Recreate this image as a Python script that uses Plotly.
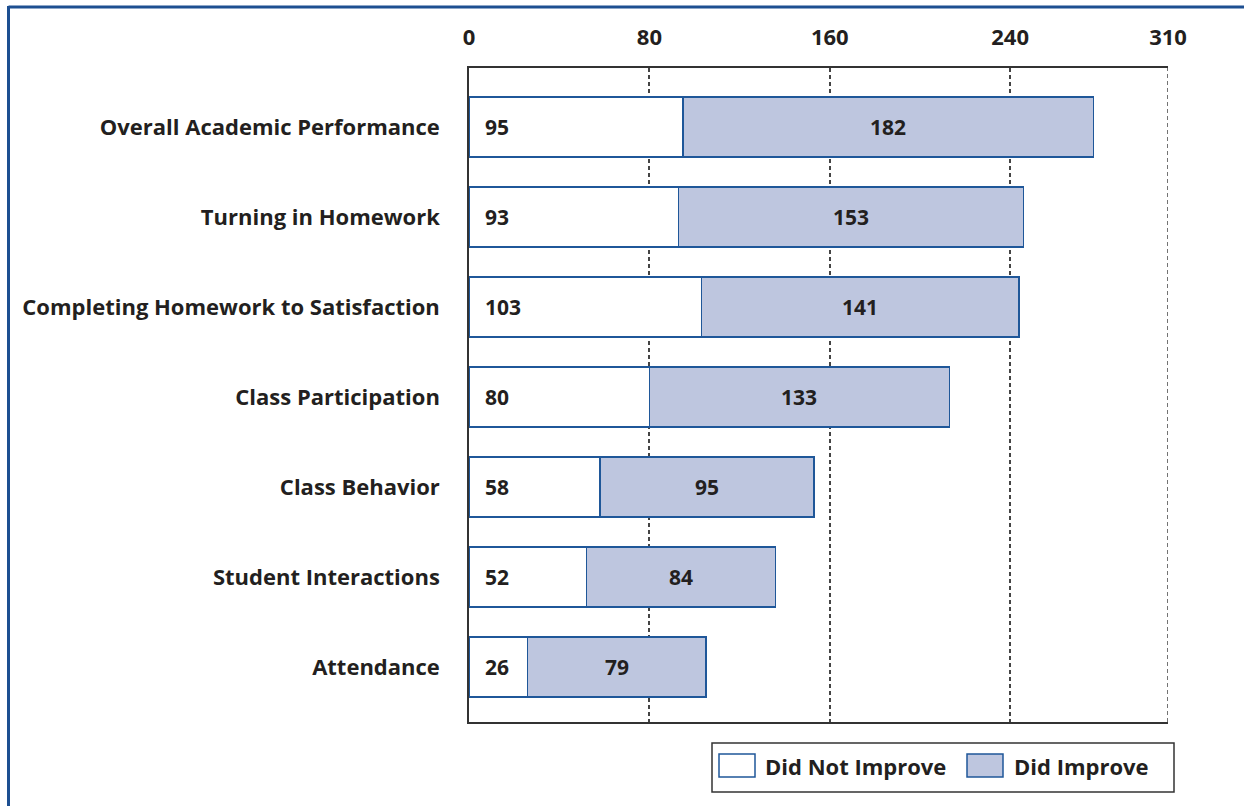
import plotly.graph_objects as go

# Student outcomes, counted by category
categories = [
    "Overall Academic Performance",
    "Turning in Homework",
    "Completing Homework to Satisfaction",
    "Class Participation",
    "Class Behavior",
    "Student Interactions",
    "Attendance",
]
did_not_improve = [95, 93, 103, 80, 58, 52, 26]
did_improve = [182, 153, 141, 133, 95, 84, 79]
tick_values = [0, 80, 160, 240, 310]
series_names = ["Did Not Improve", "Did Improve"]

W, H = 1244, 806
ML, MR, MT, MB = 469, 76, 68, 84
PW, PH = W - ML - MR, H - MT - MB

FONT = "Open Sans"
WEIGHT = 700
TXT = "#231f20"
EDGE = "#1f5799"
FILL = "#bec6df"
FRAME = "#1d4f91"
GRID = "#444444"
DASH = "4px,3px"


def px(x):
    return (x - ML) / PW


def py(y):
    return 1 - (y - MT) / PH


def font(size):
    return dict(family=FONT, size=size, color=TXT, weight=WEIGHT)


fig = go.Figure()
fig.add_trace(go.Bar(
    y=categories, x=did_not_improve, orientation="h", name=series_names[0],
    marker=dict(color="white", line=dict(color=EDGE, width=1.5)),
    width=0.667, showlegend=False, hoverinfo="x+name",
))
fig.add_trace(go.Bar(
    y=categories, x=did_improve, orientation="h", name=series_names[1],
    marker=dict(color=FILL, line=dict(color=EDGE, width=1.5)),
    width=0.667, showlegend=False, hoverinfo="x+name",
))

annotations = []
for cat, a, b in zip(categories, did_not_improve, did_improve):
    annotations.append(dict(
        x=0, y=cat, xref="x", yref="y", text=str(a), showarrow=False,
        xanchor="left", xshift=14, font=font(21),
    ))
    annotations.append(dict(
        x=a + b / 2, y=cat, xref="x", yref="y", text=str(b), showarrow=False,
        xanchor="center", font=font(21),
    ))

shapes = []
# dashed right edge of the plot box at the last tick
shapes.append(dict(type="line", xref="x", yref="paper", x0=tick_values[-1],
                   x1=tick_values[-1], y0=0, y1=1,
                   line=dict(color=GRID, width=1.5, dash=DASH), layer="below"))
# outer frame (top and left edges)
shapes.append(dict(type="line", xref="paper", yref="paper", x0=px(8.5), x1=px(W + 5),
                   y0=py(7), y1=py(7), line=dict(color=FRAME, width=3)))
shapes.append(dict(type="line", xref="paper", yref="paper", x0=px(8.5), x1=px(8.5),
                   y0=py(6), y1=py(H + 5), line=dict(color=FRAME, width=3)))

# legend box and swatches
shapes.append(dict(type="rect", xref="paper", yref="paper", x0=px(712), x1=px(1174),
                   y0=py(743), y1=py(792), line=dict(color="#333333", width=1.5),
                   fillcolor="white"))
shapes.append(dict(type="rect", xref="paper", yref="paper", x0=px(719), x1=px(755),
                   y0=py(754), y1=py(777), line=dict(color=EDGE, width=1.5),
                   fillcolor="white"))
shapes.append(dict(type="rect", xref="paper", yref="paper", x0=px(967), x1=px(1003),
                   y0=py(754), y1=py(777), line=dict(color=EDGE, width=1.5),
                   fillcolor=FILL))
annotations.append(dict(x=px(763), y=py(766), xref="paper", yref="paper",
                        text=series_names[0], showarrow=False,
                        xanchor="left", yanchor="middle", font=font(22)))
annotations.append(dict(x=px(1012), y=py(766), xref="paper", yref="paper",
                        text=series_names[1], showarrow=False,
                        xanchor="left", yanchor="middle", font=font(22)))

fig.update_layout(
    width=W, height=H,
    margin=dict(l=ML, r=MR, t=MT, b=MB, pad=0, autoexpand=False),
    barmode="stack",
    paper_bgcolor="white", plot_bgcolor="white",
    font=dict(family=FONT, color=TXT),
    annotations=annotations, shapes=shapes,
    xaxis=dict(
        side="top", range=[0, 310], tickvals=tick_values,
        ticktext=[str(v) for v in tick_values],
        tickfont=font(22),
        ticks="", ticklabelstandoff=12, automargin=False,
        showgrid=True, gridcolor=GRID, gridwidth=1.5, griddash=DASH,
        showline=True, linecolor="#333333", linewidth=1.5, mirror=True,
        zeroline=False, fixedrange=True,
    ),
    yaxis=dict(
        categoryorder="array", categoryarray=categories,
        range=[6.611, -0.656],
        tickvals=categories, ticktext=categories,
        tickfont=font(22),
        ticks="", ticklabelstandoff=23, automargin=False,
        showgrid=False, showline=True, linecolor="#333333", linewidth=1.5,
        zeroline=False, fixedrange=True,
    ),
)

fig.write_html("out.html")
